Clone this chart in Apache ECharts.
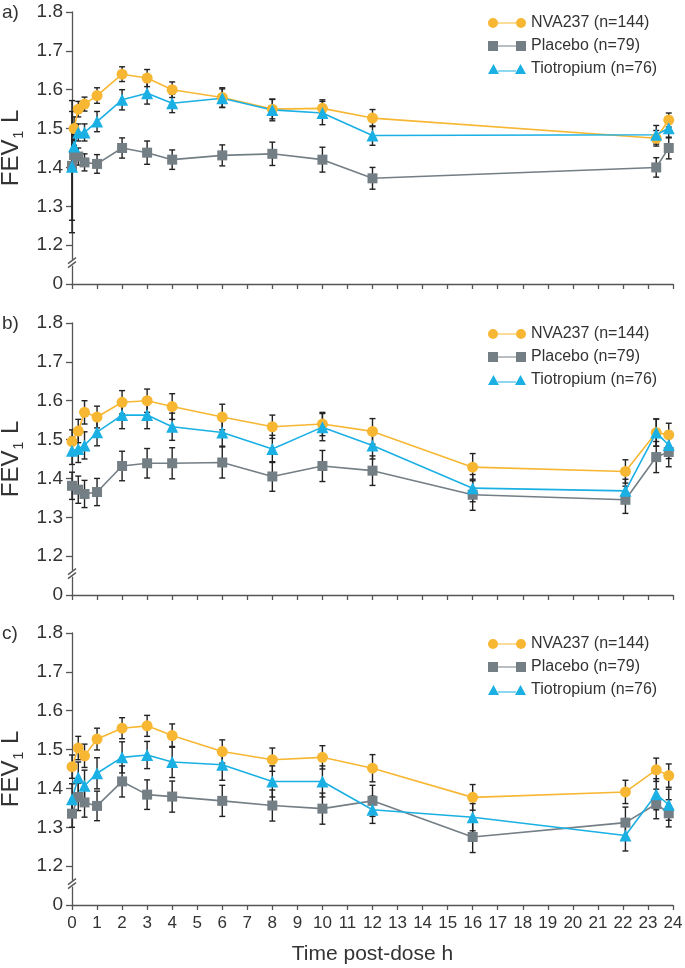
<!DOCTYPE html>
<html lang="en">
<head>
<meta charset="UTF-8">
<title>FEV1 time profiles</title>
<script src="https://cdn.jsdelivr.net/npm/echarts@6/dist/echarts.min.js"></script>
<style>
    html, body { margin: 0; padding: 0; background: #fff; }
    #main { width: 685px; height: 968px; }
</style>
</head>
<body>
<div id="main"></div>
<script>
// time points, hours post-dose
var timesA = [0, 0.083, 0.25, 0.5, 1, 2, 3, 4, 6, 8, 10, 12, 23.33, 23.83];
var timesBC = [0, 0.25, 0.5, 1, 2, 3, 4, 6, 8, 10, 12, 16, 22.1, 23.33, 23.83];

var seriesNames = ['NVA237 (n=144)', 'Placebo (n=79)', 'Tiotropium (n=76)'];
var panelLabels = ['a)', 'b)', 'c)'];
var xTicks = [0, 24, 1];
var yTicks = [1.1, 1.8, 0.1];   // 1.1 is shown as the broken "0"

// panel a
var nvaA = [null, 1.50, 1.55, 1.563, 1.585, 1.64, 1.63, 1.60, 1.58, 1.55, 1.552, 1.527, 1.475, 1.522];
var placeboA = [1.404, 1.432, 1.428, 1.413, 1.409, 1.45, 1.438, 1.42, 1.431, 1.435, 1.42, 1.372, 1.40, 1.45];
var tioA = [1.402, 1.454, 1.49, 1.49, 1.518, 1.574, 1.591, 1.565, 1.578, 1.548, 1.54, 1.482, 1.484, 1.501];
var nvaErrA = [0, 0.03, 0.02, 0.018, 0.02, 0.019, 0.022, 0.02, 0.025, 0.025, 0.022, 0.022, 0.02, 0.018];
var placeboErrA = [0.14, 0.025, 0.022, 0.022, 0.024, 0.026, 0.03, 0.025, 0.027, 0.03, 0.032, 0.028, 0.025, 0.028];
var tioErrA = [0.17, 0.03, 0.022, 0.022, 0.026, 0.026, 0.028, 0.024, 0.024, 0.028, 0.03, 0.025, 0.024, 0.025];

// panel b
var nvaB = [1.495, 1.522, 1.570, 1.558, 1.596, 1.60, 1.585, 1.558, 1.533, 1.540, 1.521, 1.429, 1.418, 1.518, 1.512];
var placeboB = [1.381, 1.371, 1.36, 1.365, 1.432, 1.439, 1.439, 1.441, 1.405, 1.432, 1.42, 1.358, 1.345, 1.455, 1.468];
var tioB = [1.471, 1.476, 1.485, 1.519, 1.563, 1.563, 1.533, 1.518, 1.476, 1.532, 1.485, 1.375, 1.368, 1.518, 1.486];
var nvaErrB = [0.03, 0.03, 0.03, 0.028, 0.03, 0.03, 0.033, 0.033, 0.03, 0.03, 0.033, 0.035, 0.03, 0.035, 0.03];
var placeboErrB = [0.035, 0.035, 0.035, 0.035, 0.038, 0.038, 0.04, 0.04, 0.038, 0.04, 0.038, 0.04, 0.035, 0.04, 0.038];
var tioErrB = [0.035, 0.035, 0.035, 0.035, 0.035, 0.035, 0.035, 0.035, 0.035, 0.035, 0.035, 0.035, 0.03, 0.035, 0.035];

// panel c
var nvaC = [1.456, 1.504, 1.484, 1.527, 1.555, 1.561, 1.536, 1.495, 1.474, 1.48, 1.452, 1.377, 1.391, 1.448, 1.433];
var placeboC = [1.335, 1.378, 1.364, 1.355, 1.418, 1.384, 1.379, 1.368, 1.356, 1.348, 1.368, 1.275, 1.312, 1.36, 1.336];
var tioC = [1.372, 1.428, 1.407, 1.439, 1.48, 1.486, 1.468, 1.461, 1.418, 1.418, 1.345, 1.326, 1.279, 1.385, 1.358];
var nvaErrC = [0.03, 0.03, 0.03, 0.028, 0.027, 0.027, 0.03, 0.03, 0.03, 0.03, 0.035, 0.033, 0.03, 0.03, 0.03];
var placeboErrC = [0.035, 0.035, 0.038, 0.038, 0.04, 0.038, 0.04, 0.04, 0.04, 0.04, 0.04, 0.04, 0.04, 0.038, 0.035];
var tioErrC = [0.04, 0.04, 0.04, 0.04, 0.04, 0.035, 0.04, 0.04, 0.04, 0.04, 0.035, 0.035, 0.04, 0.04, 0.04];

var panels = [
    {times: timesA, vals: [nvaA, placeboA, tioA], errs: [nvaErrA, placeboErrA, tioErrA]},
    {times: timesBC, vals: [nvaB, placeboB, tioB], errs: [nvaErrB, placeboErrB, tioErrB]},
    {times: timesBC, vals: [nvaC, placeboC, tioC], errs: [nvaErrC, placeboErrC, tioErrC]}
];

var colors = ['#F7B733', '#737E85', '#1AB0E4'];
var symbols = ['circle', 'rect', 'triangle'];
var symbolSizes = [11, 10, 12];
var legendIcons = [
    'path://M0,5 A5,5 0 1,1 10,5 A5,5 0 1,1 0,5 Z M10,4.4 L28,4.4 L28,5.6 L10,5.6 Z M28,5 A5,5 0 1,1 38,5 A5,5 0 1,1 28,5 Z',
    'path://M0,0 L10,0 L10,10 L0,10 Z M10,4.4 L28,4.4 L28,5.6 L10,5.6 Z M28,0 L38,0 L38,10 L28,10 Z',
    'path://M0,10 L5.5,0 L11,10 Z M10,6.4 L28,6.4 L28,7.6 L10,7.6 Z M27,10 L32.5,0 L38,10 Z'
];

var panelTops = [12, 323, 633];
var panelH = 272;
var FONT = '"Liberation Sans", Arial, sans-serif';

var myChart = echarts.init(document.getElementById('main'));

var grids = [], xAxes = [], yAxes = [], legends = [], series = [], graphics = [];

panels.forEach(function (p, i) {
    var last = i === panels.length - 1;
    grids.push({left: 72, right: 12, top: panelTops[i], height: panelH, outerBoundsMode: 'none', containLabel: false});
    xAxes.push({
        type: 'value', gridIndex: i, min: xTicks[0], max: xTicks[1], interval: xTicks[2],
        axisLine: {lineStyle: {color: '#555', width: 1.3}},
        axisTick: {length: 5, lineStyle: {color: '#555', width: 1.3}},
        axisLabel: {show: last, color: '#333', fontSize: 17, fontFamily: FONT, margin: 10},
        splitLine: {show: false},
        name: last ? 'Time post-dose h' : '',
        nameLocation: 'middle', nameGap: 39,
        nameTextStyle: {color: '#333', fontSize: 21, fontFamily: FONT}
    });
    yAxes.push({
        type: 'value', gridIndex: i, min: yTicks[0], max: yTicks[1], interval: yTicks[2],
        axisLine: {show: true, lineStyle: {color: '#555', width: 1.3}},
        axisTick: {show: true, length: 6, lineStyle: {color: '#555', width: 1.3}},
        axisLabel: {
            color: '#333', fontSize: 19, fontFamily: FONT, margin: 9,
            formatter: function (v) { return v < 1.15 ? '0' : v.toFixed(1); }
        },
        splitLine: {show: false},
        name: 'FEV{s|1} L', nameLocation: 'middle', nameGap: 46,
        nameTextStyle: {
            color: '#333', fontSize: 24, fontFamily: FONT, lineHeight: 28,
            rich: {s: {fontSize: 14, fontFamily: FONT, color: '#333', lineHeight: 28, verticalAlign: 'bottom', padding: [0, 1, 0, 1]}}
        }
    });
    legends.push({
        orient: 'vertical', left: 483, top: panelTops[i] - 2,
        itemWidth: 38, itemHeight: 10, itemGap: 7, selectedMode: false,
        textStyle: {color: '#333', fontSize: 16, fontFamily: FONT, lineHeight: 16},
        data: seriesNames.map(function (n, k) { return {name: n, icon: legendIcons[k]}; })
    });
    graphics.push({
        type: 'text', left: 2, top: panelTops[i] - 9,
        style: {text: panelLabels[i], fill: '#333', font: '19px ' + FONT}
    });

    // broken axis mark between 0 and 1.2
    series.push({
        type: 'custom', xAxisIndex: i, yAxisIndex: i, z: 5, silent: true,
        data: [[0, 1.155]],
        renderItem: function (params, api) {
            var c = api.coord([api.value(0), api.value(1)]);
            var x = c[0], y = c[1];
            var st = {stroke: '#555', lineWidth: 1.3};
            return {
                type: 'group', children: [
                    {type: 'rect', shape: {x: x - 2, y: y - 3, width: 4, height: 6}, style: {fill: '#fff'}},
                    {type: 'line', shape: {x1: x - 4, y1: y + 5, x2: x + 4, y2: y - 1}, style: st},
                    {type: 'line', shape: {x1: x - 4, y1: y + 1, x2: x + 4, y2: y - 5}, style: st}
                ]
            };
        }
    });

    // error bars
    p.vals.forEach(function (vals, k) {
        var d = [];
        vals.forEach(function (v, j) {
            if (v != null) d.push([p.times[j], v, p.errs[k][j]]);
        });
        series.push({
            type: 'custom', xAxisIndex: i, yAxisIndex: i, z: 1, silent: true,
            data: d,
            renderItem: function (params, api) {
                var x = api.value(0), y = api.value(1), e = api.value(2);
                var hi = api.coord([x, y + e]), lo = api.coord([x, y - e]);
                var st = {stroke: '#222', lineWidth: 1.4};
                return {
                    type: 'group', children: [
                        {type: 'line', shape: {x1: hi[0], y1: hi[1], x2: lo[0], y2: lo[1]}, style: st},
                        {type: 'line', shape: {x1: hi[0] - 3, y1: hi[1], x2: hi[0] + 3, y2: hi[1]}, style: st},
                        {type: 'line', shape: {x1: lo[0] - 3, y1: lo[1], x2: lo[0] + 3, y2: lo[1]}, style: st}
                    ]
                };
            }
        });
    });

    // lines with markers
    p.vals.forEach(function (vals, k) {
        var d = [];
        vals.forEach(function (v, j) {
            if (v != null) d.push([p.times[j], v]);
        });
        series.push({
            name: seriesNames[k], type: 'line', xAxisIndex: i, yAxisIndex: i, z: 3,
            data: d, symbol: symbols[k], symbolSize: symbolSizes[k], showAllSymbol: true,
            itemStyle: {color: colors[k]},
            lineStyle: {color: colors[k], width: 1.6},
            animation: false
        });
    });
});

var option = {
    animation: false,
    backgroundColor: '#fff',
    grid: grids,
    xAxis: xAxes,
    yAxis: yAxes,
    legend: legends,
    graphic: graphics,
    series: series
};
myChart.setOption(option);
</script>
</body>
</html>
